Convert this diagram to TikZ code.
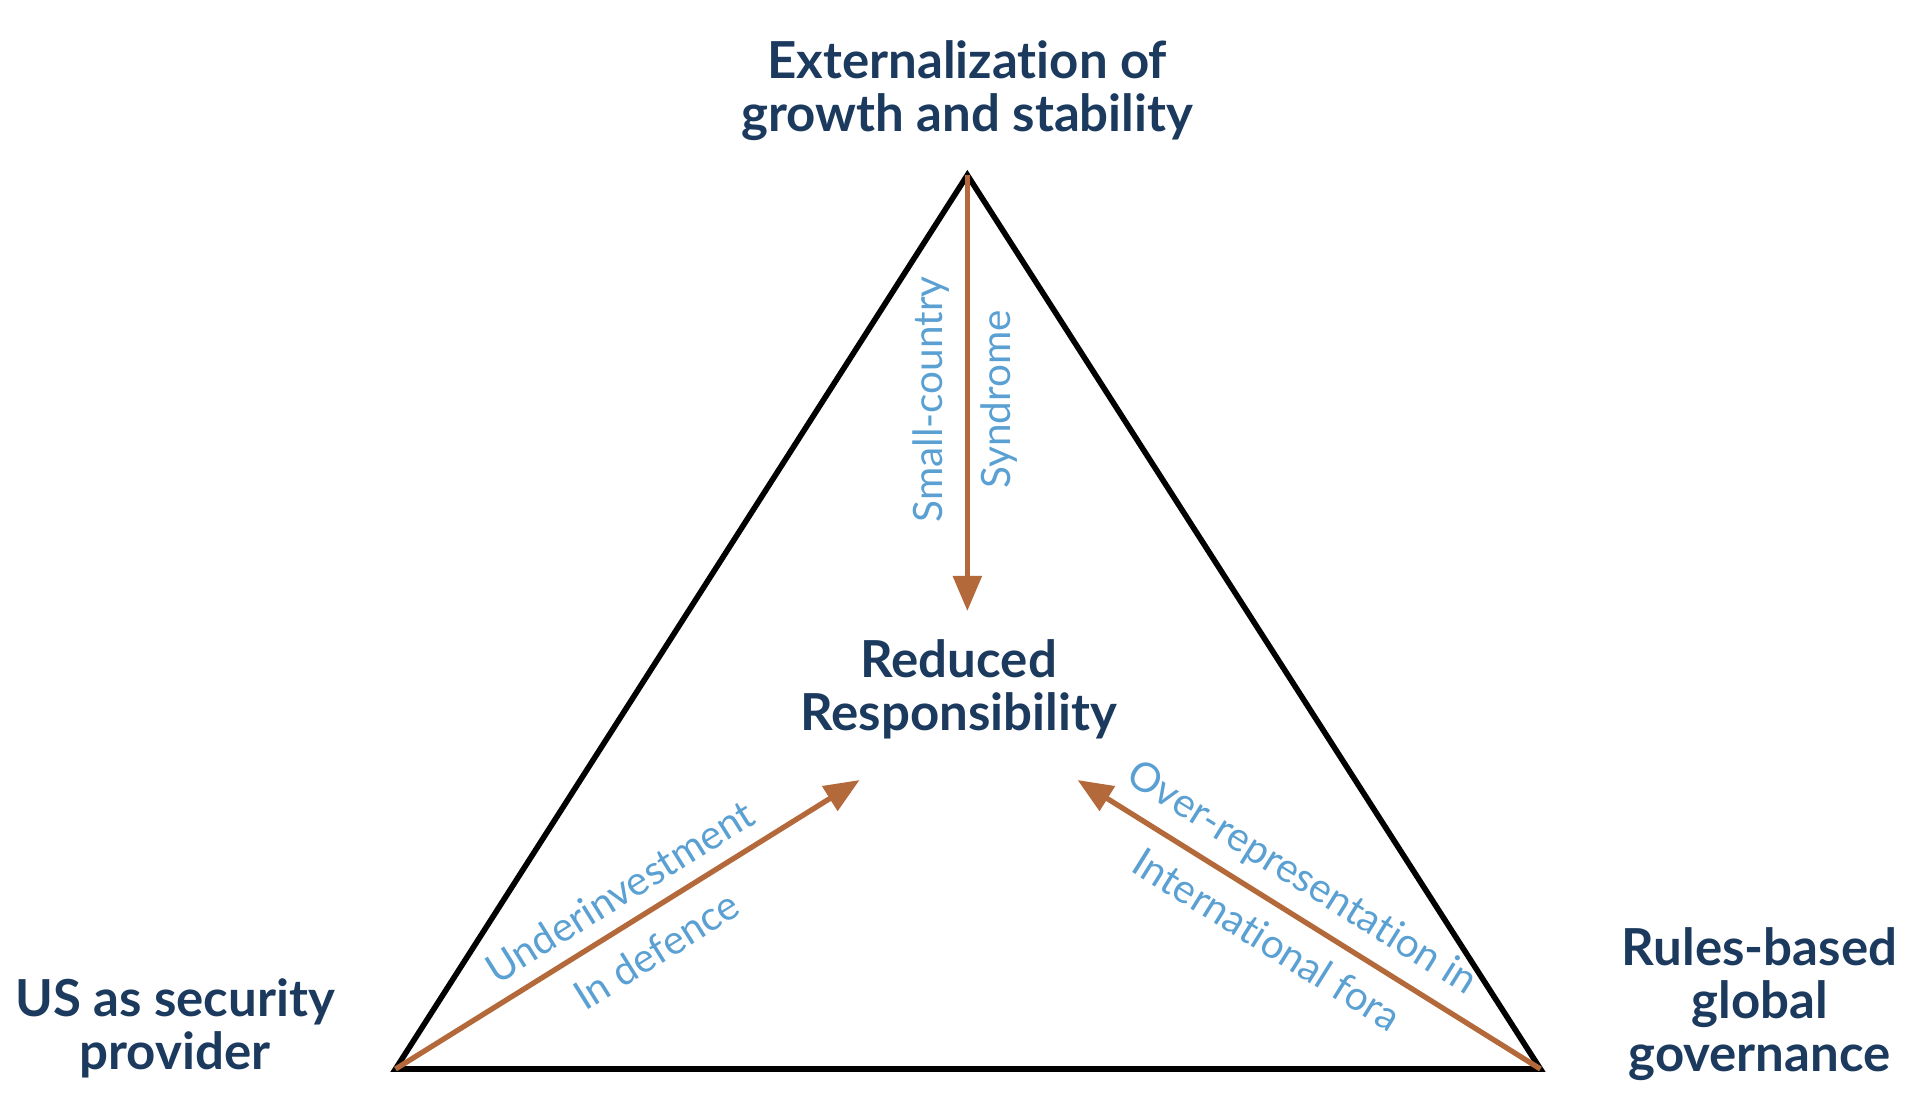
\documentclass[tikz,border=0pt]{standalone}
\usepackage{fontspec}
\setmainfont{Lato}[Ligatures={NoCommon}]
\usetikzlibrary{arrows.meta}
\definecolor{dblue}{HTML}{1B3A5E}
\definecolor{lblue}{HTML}{5AA0D2}
\definecolor{arr}{HTML}{B3693A}
\begin{document}
\begin{tikzpicture}[x=0.012245cm,y=-0.012245cm,
  title/.style={font=\fontsize{14.5}{15}\selectfont\bfseries,text=dblue,align=center},
  lab/.style={font=\fontsize{11.5}{13}\selectfont,text=lblue,inner sep=0pt},
  edge/.style={line width=1.6pt,black,line join=miter},
  link/.style={line width=1.5pt,arr,-{Triangle[length=10pt,width=8pt]}}]
\useasboundingbox (0,0) rectangle (1568,901);
\coordinate (top) at (790,143);
\coordinate (left) at (323,873);
\coordinate (right) at (1258,873);
\coordinate (ctop) at (790,499);
\coordinate (cleft) at (702,637);
\coordinate (cright) at (880,637);
\draw[edge] (top) -- (left) -- (right) -- cycle;
\draw[link] (top) -- (ctop);
\draw[link] (left) -- (cleft);
\draw[link] (right) -- (cright);
\node[title] (ext) at (790,74) {Externalization of\\growth and stability};
\node[title] (red) at (783,563) {Reduced\\Responsibility};
\node[title] (us) at (143,840) {US as security\\provider};
\node[title] (rules) at (1437,820) {Rules-based\\global\\governance};
\node[lab,rotate=90] (sc) at (760,326) {Small-country};
\node[lab,rotate=90] (syn) at (816,326) {Syndrome};
\node[lab,rotate=32] (und) at (506,728) {Underinvestment};
\node[lab,rotate=32] (def) at (536,776) {In defence};
\node[lab,rotate=-32] (over) at (1063,718) {Over-representation in};
\node[lab,rotate=-32] (intl) at (1035,767) {International fora};
\end{tikzpicture}
\end{document}
